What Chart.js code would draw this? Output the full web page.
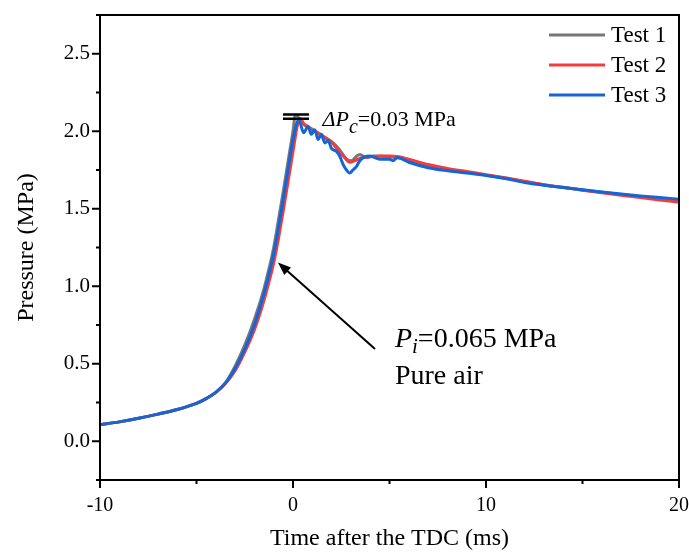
<!DOCTYPE html>
<html>
<head>
<meta charset="utf-8">
<script src="https://cdn.jsdelivr.net/npm/chart.js@4.4.1/dist/chart.umd.min.js"></script>
<style>
    html, body { margin: 0; padding: 0; background: #fff; }
    #wrap { width: 689px; height: 552px; }
</style>
</head>
<body>
<div id="wrap"><canvas id="pression"></canvas></div>
<script>
// Test 1 (gris)
const tempsTest1 = [-10, -9, -8, -7, -6, -5, -4.5, -4, -3.5, -3, -2.5, -2, -1.5, -1.25, -1, -0.75, -0.5, -0.25, 0, 0.12, 0.52, 1.04, 1.56, 2.08, 2.42, 2.77, 3.03, 3.3, 3.46, 3.8, 4.15, 5, 6, 7, 8, 9, 10, 11, 12, 13, 14, 15, 16, 17, 18, 19, 20];
const presTest1 = [0.107, 0.125, 0.148, 0.175, 0.205, 0.245, 0.275, 0.315, 0.378, 0.485, 0.62, 0.785, 0.985, 1.11, 1.25, 1.43, 1.615, 1.81, 2.0, 2.105, 2.05, 2.01, 1.97, 1.925, 1.88, 1.82, 1.81, 1.84, 1.85, 1.83, 1.84, 1.835, 1.815, 1.78, 1.755, 1.735, 1.717, 1.697, 1.675, 1.653, 1.637, 1.621, 1.606, 1.592, 1.578, 1.566, 1.553];

// Test 2 (rouge)
const tempsTest2 = [-10, -9, -8, -7, -6, -5, -4.5, -4, -3.5, -3, -2.5, -2, -1.5, -1.25, -1, -0.75, -0.5, -0.25, 0, 0.25, 0.38, 0.6, 0.8, 0.95, 1.2, 1.47, 1.75, 1.99, 2.33, 2.68, 2.94, 3.2, 3.55, 4, 4.5, 5, 5.5, 6, 7, 8, 9, 10, 11, 12, 13, 14, 15, 16, 17, 18, 19, 20];
const presTest2 = [0.107, 0.125, 0.148, 0.175, 0.205, 0.245, 0.275, 0.315, 0.372, 0.455, 0.575, 0.72, 0.91, 1.025, 1.15, 1.31, 1.49, 1.68, 1.87, 2.05, 2.08, 2.04, 2.03, 2.01, 1.995, 1.97, 1.95, 1.93, 1.88, 1.83, 1.80, 1.81, 1.83, 1.835, 1.84, 1.84, 1.835, 1.82, 1.785, 1.76, 1.74, 1.72, 1.70, 1.678, 1.655, 1.638, 1.62, 1.603, 1.587, 1.572, 1.557, 1.542];

// Test 3 (bleu)
const tempsTest3 = [-10, -9, -8, -7, -6, -5, -4.5, -4, -3.5, -3, -2.5, -2, -1.5, -1.25, -1, -0.75, -0.5, -0.25, 0, 0.3, 0.55, 0.78, 0.95, 1.13, 1.3, 1.47, 1.65, 1.82, 1.99, 2.25, 2.42, 2.6, 2.77, 2.94, 3.1, 3.3, 3.46, 3.72, 3.98, 4.5, 5, 5.2, 5.4, 6, 7, 8, 9, 10, 11, 12, 13, 14, 15, 16, 17, 18, 19, 20];
const presTest3 = [0.107, 0.125, 0.148, 0.175, 0.205, 0.245, 0.275, 0.315, 0.375, 0.47, 0.595, 0.75, 0.955, 1.075, 1.21, 1.38, 1.565, 1.76, 1.945, 2.075, 1.99, 2.03, 1.98, 2.01, 1.946, 1.98, 1.925, 1.94, 1.89, 1.87, 1.84, 1.785, 1.75, 1.73, 1.75, 1.775, 1.81, 1.835, 1.84, 1.82, 1.82, 1.81, 1.83, 1.80, 1.765, 1.745, 1.73, 1.715, 1.695, 1.67, 1.652, 1.637, 1.622, 1.608, 1.595, 1.583, 1.572, 1.562];

const nomsTests = ['Test 1', 'Test 2', 'Test 3'];
const couleurs = ['#777777', '#f53c3c', '#1466d8'];

// Graduations des axes
const xTicksMajeurs = [-10, 0, 10, 20];
const xTicksMineurs = [-5, 5, 15];
const yTicksMajeurs = [0, 0.5, 1, 1.5, 2, 2.5];
const yTicksMineurs = [-0.25, 0.25, 0.75, 1.25, 1.75, 2.25, 2.75];

// Annotations (en unités des données)
const deltaPc = [2.108, 2.08];
const barreX = [-0.52, 0.83];

const police = '"Liberation Serif", "Times New Roman", serif';

function enPoints(temps, pres) {
    return temps.map(function (t, i) { return { x: t, y: pres[i] }; });
}

const series = [
    enPoints(tempsTest1, presTest1),
    enPoints(tempsTest2, presTest2),
    enPoints(tempsTest3, presTest3)
];

// Ticks, cadre, légende et annotations dessinés à la main
const decor = {
    id: 'decor',
    afterDraw(chart) {
        const ctx = chart.ctx;
        const a = chart.chartArea;
        const xs = chart.scales.x;
        const ys = chart.scales.y;
        ctx.save();
        ctx.strokeStyle = '#000';
        ctx.lineWidth = 2;
        ctx.strokeRect(a.left, a.top, a.right - a.left, a.bottom - a.top);

        ctx.beginPath();
        xTicksMajeurs.forEach(function (v) {
            const px = xs.getPixelForValue(v);
            ctx.moveTo(px, a.bottom); ctx.lineTo(px, a.bottom + 8);
        });
        xTicksMineurs.forEach(function (v) {
            const px = xs.getPixelForValue(v);
            ctx.moveTo(px, a.bottom); ctx.lineTo(px, a.bottom + 4);
        });
        yTicksMajeurs.forEach(function (v) {
            const py = ys.getPixelForValue(v);
            ctx.moveTo(a.left, py); ctx.lineTo(a.left - 8, py);
        });
        yTicksMineurs.forEach(function (v) {
            const py = ys.getPixelForValue(v);
            ctx.moveTo(a.left, py); ctx.lineTo(a.left - 4, py);
        });
        ctx.stroke();

        // légende
        ctx.lineWidth = 3;
        ctx.font = '23px ' + police;
        ctx.textBaseline = 'middle';
        ctx.fillStyle = '#000';
        chart.data.datasets.forEach(function (ds, i) {
            const y = a.top + 20 + i * 30;
            ctx.strokeStyle = ds.borderColor;
            ctx.beginPath();
            ctx.moveTo(a.right - 130, y);
            ctx.lineTo(a.right - 74, y);
            ctx.stroke();
            ctx.fillText(ds.label, a.right - 68, y + 1);
        });

        // barres du ΔPc
        ctx.strokeStyle = '#000';
        ctx.lineWidth = 2.5;
        ctx.beginPath();
        deltaPc.forEach(function (p) {
            const py = ys.getPixelForValue(p);
            ctx.moveTo(xs.getPixelForValue(barreX[0]), py);
            ctx.lineTo(xs.getPixelForValue(barreX[1]), py);
        });
        ctx.stroke();

        ctx.textBaseline = 'alphabetic';
        let x = xs.getPixelForValue(1.53);
        let y = ys.getPixelForValue(2.034);
        ctx.font = 'italic 22px ' + police;
        ctx.fillText('ΔP', x, y);
        x += ctx.measureText('ΔP').width;
        ctx.font = 'italic 20px ' + police;
        ctx.fillText('c', x, y + 7);
        x += ctx.measureText('c').width;
        ctx.font = '22px ' + police;
        ctx.fillText('=0.03 MPa', x, y);

        // Pi et Pure air
        x = xs.getPixelForValue(5.28);
        y = ys.getPixelForValue(0.611);
        ctx.font = 'italic 28px ' + police;
        ctx.fillText('P', x, y);
        x += ctx.measureText('P').width;
        ctx.font = 'italic 21px ' + police;
        ctx.fillText('i', x, y + 6);
        x += ctx.measureText('i').width;
        ctx.font = '28px ' + police;
        ctx.fillText('=0.065 MPa', x, y);
        ctx.fillText('Pure air', xs.getPixelForValue(5.28), ys.getPixelForValue(0.372));

        // flèche
        const x1 = xs.getPixelForValue(4.25), y1 = ys.getPixelForValue(0.595);
        const x2 = xs.getPixelForValue(-0.78), y2 = ys.getPixelForValue(1.153);
        const ang = Math.atan2(y2 - y1, x2 - x1);
        ctx.lineWidth = 2;
        ctx.beginPath();
        ctx.moveTo(x1, y1);
        ctx.lineTo(x2 - 10 * Math.cos(ang), y2 - 10 * Math.sin(ang));
        ctx.stroke();
        ctx.beginPath();
        ctx.moveTo(x2, y2);
        ctx.lineTo(x2 - 13 * Math.cos(ang) + 5 * Math.sin(ang), y2 - 13 * Math.sin(ang) - 5 * Math.cos(ang));
        ctx.lineTo(x2 - 13 * Math.cos(ang) - 5 * Math.sin(ang), y2 - 13 * Math.sin(ang) + 5 * Math.cos(ang));
        ctx.closePath();
        ctx.fill();
        ctx.restore();
    }
};

const chartConfig = {
    type: 'line',
    data: {
        datasets: series.map(function (pts, i) {
            return {
                label: nomsTests[i],
                data: pts,
                borderColor: couleurs[i],
                backgroundColor: couleurs[i],
                borderWidth: 3,
                pointRadius: 0,
                cubicInterpolationMode: 'monotone',
                order: 3 - i
            };
        })
    },
    options: {
        responsive: false,
        animation: false,
        devicePixelRatio: 1,
        layout: { padding: { top: 15, right: 10, left: 0, bottom: 0 } },
        plugins: { legend: { display: false }, tooltip: { enabled: false } },
        scales: {
            x: {
                type: 'linear',
                min: -10,
                max: 20,
                grid: { display: false, drawTicks: false },
                border: { display: false },
                afterFit: function (s) {
                    s.height = 72;
                    s.paddingLeft = 0;
                    s.paddingRight = 0;
                },
                ticks: {
                    stepSize: 10,
                    padding: 14,
                    color: '#000',
                    font: { family: police, size: 20 },
                    callback: function (v) { return String(v); }
                },
                title: {
                    display: true,
                    text: 'Time after the TDC (ms)',
                    color: '#000',
                    font: { family: police, size: 24, lineHeight: 1 },
                    padding: { top: 0, bottom: 1 }
                }
            },
            y: {
                min: -0.25,
                max: 2.75,
                grid: { display: false, drawTicks: false },
                border: { display: false },
                afterFit: function (s) {
                    s.width = 100;
                    s.paddingTop = 0;
                    s.paddingBottom = 0;
                },
                afterBuildTicks: function (s) {
                    s.ticks = yTicksMajeurs.map(function (v) { return { value: v }; });
                },
                ticks: {
                    padding: 10,
                    color: '#000',
                    font: { family: police, size: 21 },
                    callback: function (v) { return Number(v).toFixed(1); }
                },
                title: {
                    display: true,
                    text: 'Pressure (MPa)',
                    color: '#000',
                    font: { family: police, size: 24, lineHeight: 1 },
                    padding: { top: 15, bottom: 0 }
                }
            }
        }
    },
    plugins: [decor]
};

const canvas = document.getElementById('pression');
canvas.width = 689;
canvas.height = 552;
window.graphe = new Chart(canvas.getContext('2d'), chartConfig);
</script>
</body>
</html>
